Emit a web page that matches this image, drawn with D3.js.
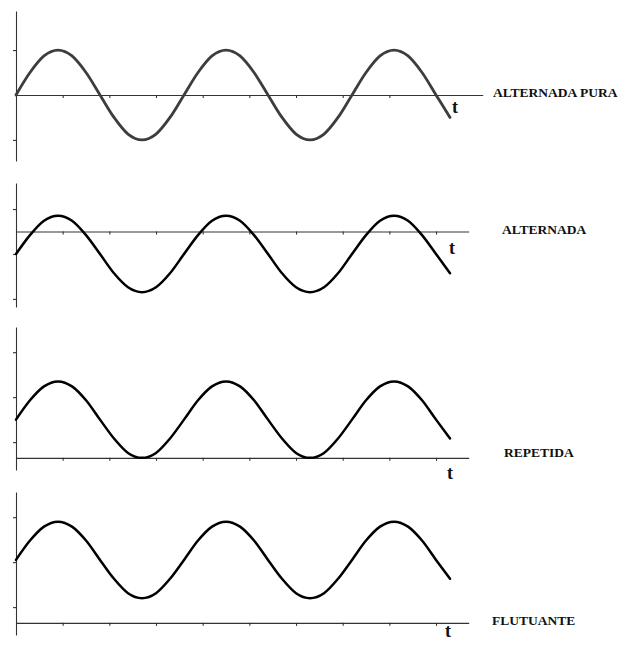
<!DOCTYPE html>
<html>
<head>
<meta charset="utf-8">
<script src="https://cdn.jsdelivr.net/npm/d3@7"></script>
<style>
  html, body { margin: 0; padding: 0; background: #fff; }
  svg { display: block; }
  .label { font-family: "Liberation Serif", "Times New Roman", Times, "DejaVu Serif", serif; font-weight: bold; fill: #111; }
</style>
</head>
<body>
<div id="chart"></div>
<script>
// Phase of each sample, in degrees
const phase = [0, 30, 60, 90, 120, 150, 180, 210, 240, 270, 300, 330,
               360, 390, 420, 450, 480, 510, 540, 570, 600, 630, 660, 690,
               720, 750, 780, 810, 840, 870, 900, 930];

// Pure alternating signal (no DC component)
const alternadaPura = [0, 0.5, 0.87, 1, 0.87, 0.5, 0, -0.5, -0.87, -1, -0.87, -0.5,
                       0, 0.5, 0.87, 1, 0.87, 0.5, 0, -0.5, -0.87, -1, -0.87, -0.5,
                       0, 0.5, 0.87, 1, 0.87, 0.5, 0, -0.5];

// Alternating signal shifted down (crosses zero unevenly)
const alternada = [-0.5, -0.08, 0.24, 0.35, 0.24, -0.08, -0.5, -0.93, -1.24, -1.35, -1.24, -0.93,
                   -0.5, -0.08, 0.24, 0.35, 0.24, -0.08, -0.5, -0.93, -1.24, -1.35, -1.24, -0.93,
                   -0.5, -0.08, 0.24, 0.35, 0.24, -0.08, -0.5, -0.93];

// Repeated signal: touches zero at every minimum
const repetida = [0.85, 1.28, 1.59, 1.7, 1.59, 1.28, 0.85, 0.43, 0.11, 0, 0.11, 0.43,
                  0.85, 1.28, 1.59, 1.7, 1.59, 1.28, 0.85, 0.43, 0.11, 0, 0.11, 0.43,
                  0.85, 1.28, 1.59, 1.7, 1.59, 1.28, 0.85, 0.43];

// Fluctuating signal: always above zero
const flutuante = [1.4, 1.83, 2.14, 2.25, 2.14, 1.83, 1.4, 0.98, 0.66, 0.55, 0.66, 0.98,
                   1.4, 1.83, 2.14, 2.25, 2.14, 1.83, 1.4, 0.98, 0.66, 0.55, 0.66, 0.98,
                   1.4, 1.83, 2.14, 2.25, 2.14, 1.83, 1.4, 0.98];

const seriesNames = ["ALTERNADA PURA", "ALTERNADA", "REPETIDA", "FLUTUANTE"];
const axisTitle = "t";

// Tick values on the time axis and on each vertical axis
const xTicks = [100, 200, 300, 400, 500, 600, 700, 800, 900];
const yTicksPura = [1, -1];
const yTicksAlternada = [0.5, -0.5, -1.5];
const yTicksRepetida = [0.35, 1.35, 2.35];
const yTicksFlutuante = [0.35, 1.35, 2.35];

const W = 624, H = 649;
const svg = d3.select("#chart").append("svg")
  .attr("width", W).attr("height", H);

// Layout of each panel: value range of the vertical axis, its pixel extent,
// the length of the time axis, and where the name and "t" sit.
const panels = [
  { values: alternadaPura, yTicks: yTicksPura, yDomain: [-1.47, 1.87], yRange: [161, 11],
    xEnd: 1000, color: "#3d3d3d", width: 2.8,
    name: seriesNames[0], nameX: 493, nameY: 97, tX: 452, tY: 113 },
  { values: alternada, yTicks: yTicksAlternada, yDomain: [-1.68, 1.08], yRange: [307, 183],
    xEnd: 970, color: "#000", width: 2.5,
    name: seriesNames[1], nameX: 502, nameY: 234, tX: 449, tY: 254 },
  { values: repetida, yTicks: yTicksRepetida, yDomain: [-0.27, 2.91], yRange: [470, 327],
    xEnd: 970, color: "#000", width: 2.5,
    name: seriesNames[2], nameX: 504, nameY: 457, tX: 447, tY: 479 },
  { values: flutuante, yTicks: yTicksFlutuante, yDomain: [-0.27, 2.91], yRange: [635, 492],
    xEnd: 970, color: "#000", width: 2.5,
    name: seriesNames[3], nameX: 492, nameY: 625, tX: 445, tY: 637 }
];

const pxPerDeg = 0.4667;
const x0 = 16;

panels.forEach(p => {
  const x = d3.scaleLinear().domain([0, p.xEnd]).range([x0, x0 + p.xEnd * pxPerDeg]);
  const y = d3.scaleLinear().domain(p.yDomain).range(p.yRange);
  const g = svg.append("g");

  // vertical axis
  g.append("g")
    .attr("transform", `translate(${x0},0)`)
    .call(d3.axisLeft(y).tickValues(p.yTicks).tickSizeInner(3).tickSizeOuter(0).tickFormat(""))
    .call(a => a.selectAll("path, line").attr("stroke", "#333").attr("stroke-width", 1.1));

  // time axis, crossing the vertical axis at zero
  g.append("g")
    .attr("transform", `translate(0,${y(0)})`)
    .call(d3.axisBottom(x).tickValues(xTicks).tickSizeInner(3).tickSizeOuter(0).tickFormat(""))
    .call(a => a.selectAll("path, line").attr("stroke", "#333").attr("stroke-width", 1.1));

  // waveform
  const line = d3.line()
    .x((d, i) => x(phase[i]))
    .y(d => y(d))
    .curve(d3.curveMonotoneX);
  g.append("path")
    .datum(p.values)
    .attr("d", line)
    .attr("fill", "none")
    .attr("stroke", p.color)
    .attr("stroke-width", p.width)
    .attr("stroke-linejoin", "round")
    .attr("stroke-linecap", "round");

  // series name
  g.append("text")
    .attr("class", "label")
    .attr("x", p.nameX).attr("y", p.nameY)
    .style("font-size", "13.5px")
    .text(p.name);

  // axis title
  g.append("text")
    .attr("class", "label")
    .attr("x", p.tX).attr("y", p.tY)
    .style("font-size", "18px")
    .text(axisTitle);
});
</script>
</body>
</html>
